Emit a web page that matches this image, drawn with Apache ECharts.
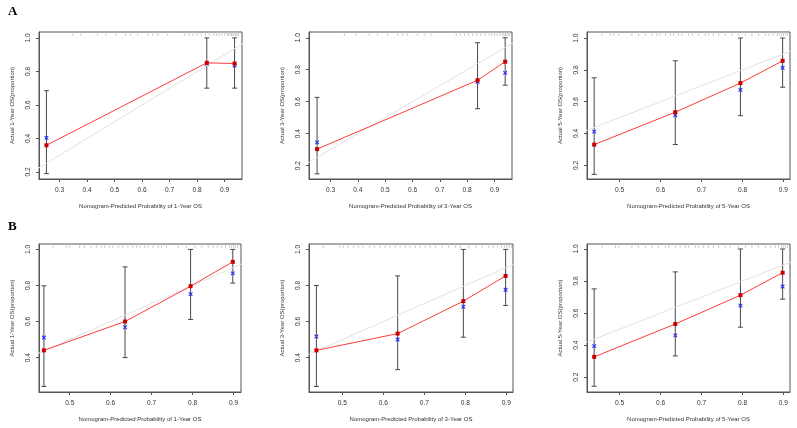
<!DOCTYPE html>
<html>
<head>
<meta charset="utf-8">
<script src="https://cdn.jsdelivr.net/npm/echarts@6/dist/echarts.min.js"></script>
<style>
  html, body { margin: 0; padding: 0; background: #fff; }
  #chart { width: 797px; height: 428px; }
</style>
</head>
<body>
<div id="chart"></div>
<script>
// panel A: 1-, 3-, 5-year (training)
var predA1 = [0.252, 0.835, 0.936];
var redA1 = [0.359, 0.851, 0.847];
var blueA1 = [0.403, 0.845, 0.835];
var lowA1 = [0.19, 0.70, 0.70];
var highA1 = [0.685, 1.0, 1.0];

var predA2 = [0.251, 0.838, 0.939];
var redA2 = [0.303, 0.734, 0.85];
var blueA2 = [0.345, 0.724, 0.78];
var lowA2 = [0.148, 0.556, 0.703];
var highA2 = [0.627, 0.969, 1.0];

var predA3 = [0.438, 0.636, 0.795, 0.898];
var redA3 = [0.33, 0.534, 0.717, 0.857];
var blueA3 = [0.412, 0.515, 0.674, 0.813];
var lowA3 = [0.143, 0.331, 0.512, 0.691];
var highA3 = [0.75, 0.857, 1.0, 1.0];

// panel B: 1-, 3-, 5-year (validation)
var predB1 = [0.437, 0.635, 0.795, 0.898];
var redB1 = [0.44, 0.60, 0.796, 0.931];
var blueB1 = [0.511, 0.568, 0.752, 0.867];
var lowB1 = [0.24, 0.40, 0.611, 0.813];
var highB1 = [0.798, 0.903, 1.0, 1.0];

var predB2 = [0.437, 0.635, 0.795, 0.898];
var redB2 = [0.44, 0.533, 0.713, 0.853];
var blueB2 = [0.517, 0.50, 0.682, 0.776];
var lowB2 = [0.24, 0.333, 0.513, 0.689];
var highB2 = [0.80, 0.853, 1.0, 1.0];

var predB3 = [0.438, 0.636, 0.795, 0.898];
var redB3 = [0.327, 0.532, 0.712, 0.852];
var blueB3 = [0.394, 0.461, 0.647, 0.766];
var lowB3 = [0.144, 0.333, 0.512, 0.687];
var highB3 = [0.751, 0.857, 1.0, 1.0];

// rug of predicted probabilities along the top
var rugA1 = [0.348, 0.377, 0.438, 0.468, 0.504, 0.54, 0.558, 0.584, 0.62, 0.638, 0.657, 0.693, 0.755, 0.77, 0.785, 0.80, 0.815, 0.83, 0.845, 0.86, 0.87, 0.88, 0.89, 0.90, 0.91, 0.915, 0.92, 0.925, 0.93, 0.935, 0.94, 0.945, 0.95];
var rugA2 = [0.351, 0.393, 0.442, 0.472, 0.509, 0.546, 0.564, 0.582, 0.619, 0.643, 0.668, 0.76, 0.775, 0.79, 0.805, 0.82, 0.835, 0.85, 0.865, 0.88, 0.89, 0.90, 0.91, 0.92, 0.93, 0.935, 0.94, 0.945, 0.95, 0.955];
var rugA3 = [0.457, 0.477, 0.485, 0.498, 0.53, 0.546, 0.563, 0.579, 0.591, 0.599, 0.612, 0.624, 0.632, 0.644, 0.652, 0.668, 0.677, 0.693, 0.709, 0.717, 0.729, 0.742, 0.758, 0.774, 0.79, 0.807, 0.823, 0.839, 0.856, 0.865, 0.875, 0.885, 0.89, 0.895, 0.90, 0.905, 0.91];
var rugB1 = [0.459, 0.491, 0.499, 0.524, 0.536, 0.552, 0.565, 0.577, 0.585, 0.597, 0.605, 0.618, 0.63, 0.642, 0.654, 0.663, 0.671, 0.683, 0.691, 0.703, 0.716, 0.724, 0.736, 0.765, 0.785, 0.806, 0.822, 0.838, 0.85, 0.86, 0.87, 0.88, 0.89, 0.895, 0.90, 0.905, 0.91];
var rugB2 = [0.454, 0.494, 0.502, 0.514, 0.527, 0.539, 0.551, 0.567, 0.579, 0.592, 0.604, 0.616, 0.629, 0.641, 0.653, 0.665, 0.678, 0.69, 0.702, 0.714, 0.727, 0.743, 0.759, 0.776, 0.788, 0.808, 0.825, 0.841, 0.857, 0.868, 0.878, 0.888, 0.895, 0.90, 0.906, 0.912];
var rugB3 = [0.457, 0.49, 0.498, 0.53, 0.546, 0.563, 0.579, 0.595, 0.612, 0.62, 0.636, 0.648, 0.66, 0.668, 0.685, 0.693, 0.705, 0.717, 0.729, 0.742, 0.758, 0.77, 0.79, 0.807, 0.823, 0.839, 0.856, 0.868, 0.88, 0.888, 0.895, 0.90, 0.905, 0.91];

var ticksX1 = [0.3, 0.4, 0.5, 0.6, 0.7, 0.8, 0.9];
var ticksX2 = [0.5, 0.6, 0.7, 0.8, 0.9];
var ticksY1 = [0.2, 0.4, 0.6, 0.8, 1.0];
var ticksY2 = [0.4, 0.6, 0.8, 1.0];

var years = ['1', '3', '5', '1', '3', '5'];

var panels = [
  { pred: predA1, red: redA1, blue: blueA1, low: lowA1, high: highA1, rug: rugA1, xr: [0.225, 0.963], yr: [0.158, 1.035], tx: ticksX1, ty: ticksY1 },
  { pred: predA2, red: redA2, blue: blueA2, low: lowA2, high: highA2, rug: rugA2, xr: [0.2215, 0.964], yr: [0.116, 1.036], tx: ticksX1, ty: ticksY1 },
  { pred: predA3, red: redA3, blue: blueA3, low: lowA3, high: highA3, rug: rugA3, xr: [0.4205, 0.916], yr: [0.114, 1.038], tx: ticksX2, ty: ticksY1 },
  { pred: predB1, red: redB1, blue: blueB1, low: lowB1, high: highB1, rug: rugB1, xr: [0.425, 0.918], yr: [0.209, 1.03], tx: ticksX2, ty: ticksY2 },
  { pred: predB2, red: redB2, blue: blueB2, low: lowB2, high: highB2, rug: rugB2, xr: [0.419, 0.916], yr: [0.209, 1.03], tx: ticksX2, ty: ticksY2 },
  { pred: predB3, red: redB3, blue: blueB3, low: lowB3, high: highB3, rug: rugB3, xr: [0.4205, 0.916], yr: [0.108, 1.031], tx: ticksX2, ty: ticksY1 }
];

var boxes = [
  { left: 39, top: 32, width: 203, height: 147 },
  { left: 309, top: 32, width: 203, height: 147 },
  { left: 587, top: 32, width: 203, height: 147 },
  { left: 39, top: 244, width: 202, height: 148 },
  { left: 309, top: 244, width: 204, height: 148 },
  { left: 587, top: 244, width: 203, height: 148 }
];

var font = 'Liberation Sans';
var grid = [], xAxis = [], yAxis = [], series = [];

panels.forEach(function (p, i) {
  grid.push(Object.assign({ show: true, borderColor: '#555', borderWidth: 1 }, boxes[i]));
  xAxis.push({
    type: 'value', gridIndex: i, min: p.xr[0], max: p.xr[1],
    axisLine: { show: true, onZero: false, lineStyle: { color: '#555' } },
    axisTick: { show: true, length: 3, customValues: p.tx, lineStyle: { color: '#555' } },
    axisLabel: { customValues: p.tx, fontSize: 6.6, color: '#333', margin: 8, fontFamily: font },
    splitLine: { show: false },
    name: 'Nomogram-Predicted Probability of ' + years[i] + '-Year OS',
    nameLocation: 'middle', nameGap: 24,
    nameTextStyle: { fontSize: 6, color: '#333', fontFamily: font }
  });
  yAxis.push({
    type: 'value', gridIndex: i, min: p.yr[0], max: p.yr[1],
    axisLine: { show: true, onZero: false, lineStyle: { color: '#555' } },
    axisTick: { show: true, length: 3, customValues: p.ty, lineStyle: { color: '#555' } },
    axisLabel: { customValues: p.ty, fontSize: 6.6, color: '#333', margin: 7, rotate: 90, fontFamily: font,
      formatter: function (v) { return v.toFixed(1); } },
    splitLine: { show: false },
    name: 'Actual ' + years[i] + '-Year OS(proportion)',
    nameLocation: 'middle', nameGap: 24,
    nameTextStyle: { fontSize: 6, color: '#333', fontFamily: font }
  });

  // ideal diagonal
  series.push({
    type: 'line', xAxisIndex: i, yAxisIndex: i, data: [[0, 0], [1, 1]],
    symbol: 'none', clip: true, silent: true,
    lineStyle: { color: '#e2e2e2', width: 1 }
  });

  // rug
  series.push({
    type: 'custom', xAxisIndex: i, yAxisIndex: i, silent: true,
    data: p.rug.map(function (v) { return [v, p.yr[1]]; }),
    renderItem: function (params, api) {
      var c = api.coord([api.value(0), api.value(1)]);
      return { type: 'line', shape: { x1: c[0], y1: c[1], x2: c[0], y2: c[1] + 4 },
        style: { stroke: '#c4c4c4', lineWidth: 0.8 } };
    }
  });

  // error bars
  series.push({
    type: 'custom', xAxisIndex: i, yAxisIndex: i, silent: true,
    data: p.pred.map(function (x, j) { return [x, p.low[j], p.high[j]]; }),
    renderItem: function (params, api) {
      var lo = api.coord([api.value(0), api.value(1)]);
      var hi = api.coord([api.value(0), api.value(2)]);
      var s = { stroke: '#484848', lineWidth: 1 };
      return { type: 'group', children: [
        { type: 'line', shape: { x1: lo[0], y1: lo[1], x2: hi[0], y2: hi[1] }, style: s },
        { type: 'line', shape: { x1: lo[0] - 2.5, y1: lo[1], x2: lo[0] + 2.5, y2: lo[1] }, style: s },
        { type: 'line', shape: { x1: hi[0] - 2.5, y1: hi[1], x2: hi[0] + 2.5, y2: hi[1] }, style: s }
      ] };
    }
  });

  // blue crosses
  series.push({
    type: 'custom', xAxisIndex: i, yAxisIndex: i, silent: true,
    data: p.pred.map(function (x, j) { return [x, p.blue[j]]; }),
    renderItem: function (params, api) {
      var c = api.coord([api.value(0), api.value(1)]);
      var s = { stroke: '#2b2bff', lineWidth: 1.1 };
      var d = 1.8;
      return { type: 'group', children: [
        { type: 'line', shape: { x1: c[0] - d, y1: c[1] - d, x2: c[0] + d, y2: c[1] + d }, style: s },
        { type: 'line', shape: { x1: c[0] - d, y1: c[1] + d, x2: c[0] + d, y2: c[1] - d }, style: s }
      ] };
    }
  });

  // red calibration curve
  series.push({
    type: 'line', xAxisIndex: i, yAxisIndex: i, silent: true,
    data: p.pred.map(function (x, j) { return [x, p.red[j]]; }),
    symbol: 'rect', symbolSize: 4,
    itemStyle: { color: '#c80000' },
    lineStyle: { color: '#ff3b3b', width: 1 }
  });
});

var option = {
  animation: false,
  backgroundColor: '#fff',
  grid: grid,
  xAxis: xAxis,
  yAxis: yAxis,
  series: series,
  graphic: [
    { type: 'text', left: 8, top: 5, style: { text: 'A', font: 'bold 13px "Liberation Serif"', fill: '#000' } },
    { type: 'text', left: 8, top: 220, style: { text: 'B', font: 'bold 13px "Liberation Serif"', fill: '#000' } }
  ]
};

var myChart = echarts.init(document.getElementById('chart'));
myChart.setOption(option);
</script>
</body>
</html>
